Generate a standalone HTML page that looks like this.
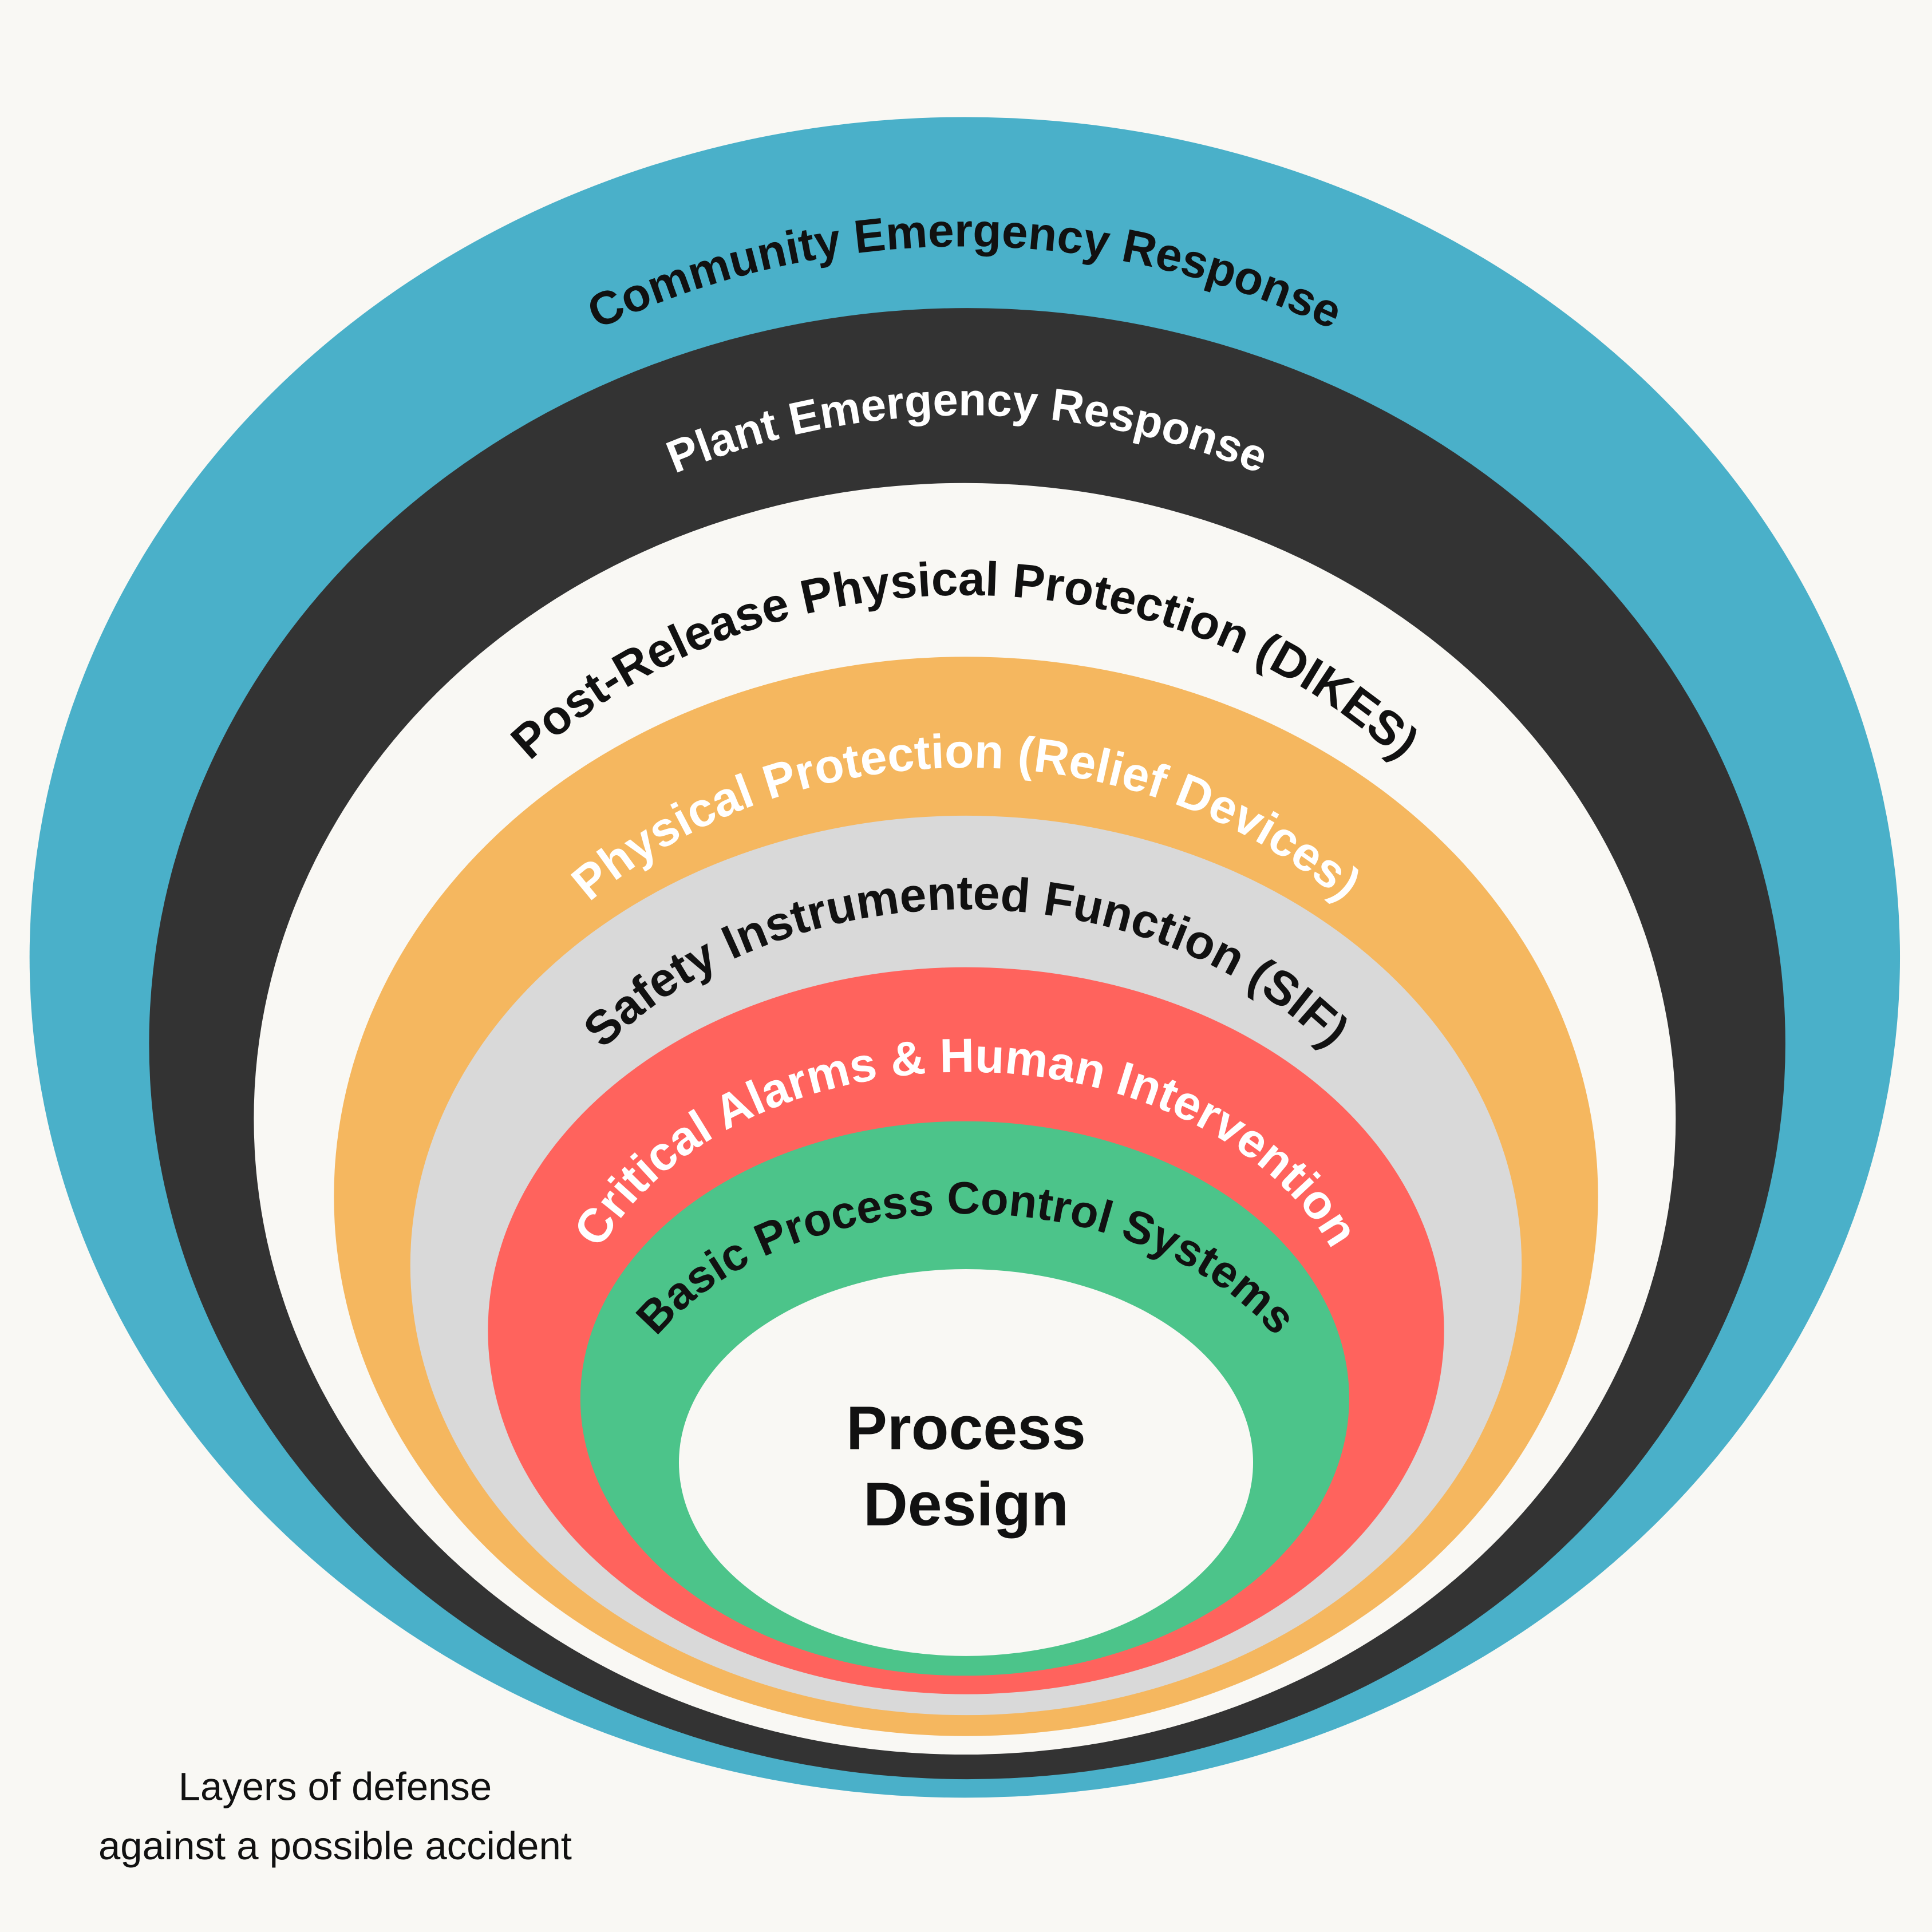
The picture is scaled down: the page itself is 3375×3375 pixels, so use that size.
<!DOCTYPE html>
<html><head><meta charset="utf-8"><style>
html,body{margin:0;padding:0;background:#F9F8F4;}
svg{display:block;}
text{font-family:"Liberation Sans",sans-serif;}
</style></head><body>
<svg width="3375" height="3375" viewBox="0 0 1568 1568" xmlns="http://www.w3.org/2000/svg">
<rect width="1568" height="1568" fill="#F9F8F4"/>
<ellipse cx="783" cy="777" rx="759" ry="682" fill="#4AB0C9"/>
<ellipse cx="785" cy="847" rx="664" ry="597" fill="#333333"/>
<ellipse cx="783" cy="908" rx="577" ry="516" fill="#F9F8F4"/>
<ellipse cx="784" cy="971" rx="513" ry="438" fill="#F5B75F"/>
<ellipse cx="784" cy="1027" rx="451" ry="365" fill="#D9D9D9"/>
<ellipse cx="784" cy="1080" rx="388" ry="295" fill="#FF635D"/>
<ellipse cx="783" cy="1135" rx="312" ry="225" fill="#4CC48A"/>
<ellipse cx="784" cy="1187" rx="233" ry="157" fill="#F9F8F4"/>
<defs>
<path id="p1" d="M148,777 A635,577 0 0 1 1418,777"/>
<path id="p2" d="M222,847 A563,510 0 0 1 1348,847"/>
<path id="p3" d="M300,908 A483,425 0 0 1 1266,908"/>
<path id="p4" d="M364,971 A420,348 0 0 1 1204,971"/>
<path id="p5" d="M414,1027 A370,289 0 0 1 1154,1027"/>
<path id="p6" d="M464,1100 A320,230 0 0 1 1104,1100"/>
<path id="p7" d="M494,1185 A290,200 0 0 1 1074,1185"/>
</defs>
<g font-weight="bold">
<text font-size="38" fill="#111"><textPath href="#p1" startOffset="50%" text-anchor="middle">Community Emergency Response</textPath></text>
<text font-size="37" fill="#fff"><textPath href="#p2" startOffset="50%" text-anchor="middle">Plant Emergency Response</textPath></text>
<text font-size="39" fill="#111"><textPath href="#p3" startOffset="50%" text-anchor="middle">Post-Release  Physical Protection (DIKES)</textPath></text>
<text font-size="39" fill="#fff"><textPath href="#p4" startOffset="50%" text-anchor="middle">Physical Protection (Relief Devices)</textPath></text>
<text font-size="39" fill="#111"><textPath href="#p5" startOffset="50%" text-anchor="middle">Safety Instrumented  Function (SIF)</textPath></text>
<text font-size="39" fill="#fff"><textPath href="#p6" startOffset="50%" text-anchor="middle">Critical Alarms &amp; Human Intervention</textPath></text>
<text font-size="37" fill="#111"><textPath href="#p7" startOffset="50%" text-anchor="middle">Basic Process Control Systems</textPath></text>
</g>
<text x="784" y="1176" font-size="50" font-weight="bold" fill="#111" text-anchor="middle">Process</text>
<text x="784" y="1238" font-size="50" font-weight="bold" fill="#111" text-anchor="middle">Design</text>
<text x="272" y="1461" font-size="32" fill="#111" text-anchor="middle">Layers of defense</text>
<text x="272" y="1509" font-size="32" fill="#111" text-anchor="middle">against a possible accident</text>
</svg>
</body></html>
